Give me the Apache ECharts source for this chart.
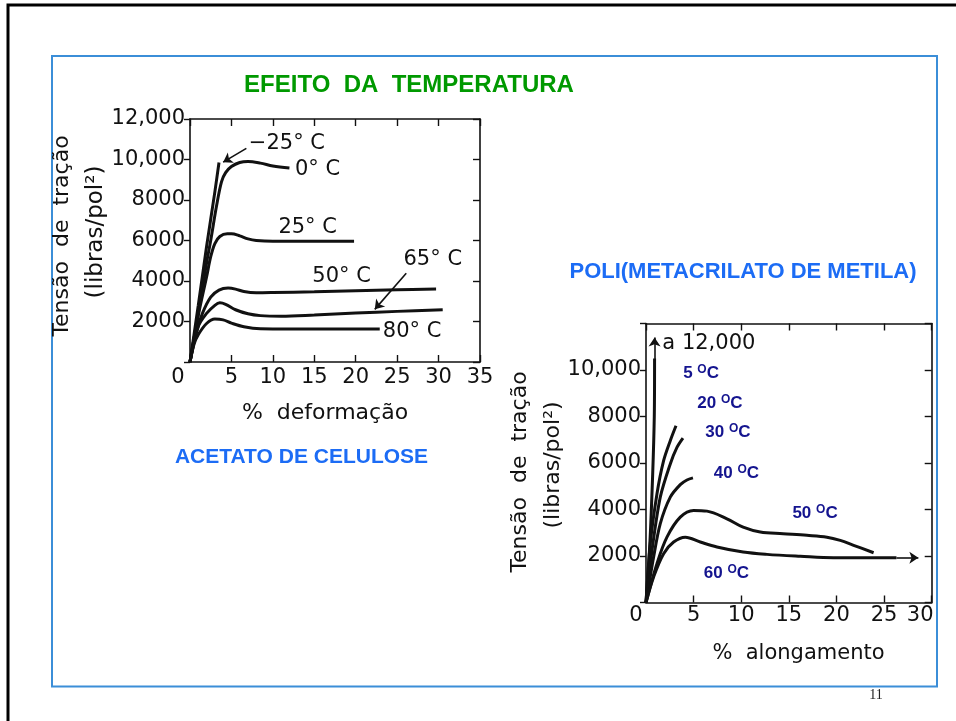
<!DOCTYPE html>
<html><head><meta charset="utf-8">
<script src="https://cdn.jsdelivr.net/npm/echarts@6/dist/echarts.min.js"></script>
<style>html,body{margin:0;padding:0;background:#fff}#c{width:956px;height:721px}</style>
</head><body><div id="c"></div>
<script>
// ---------- Acetato de celulose (left chart) ----------
const acetXMax = 35, acetYMax = 12000;
const acetM25 = [[0,0],[1,2800],[2,5700],[3,8400],[3.5,9850]];
const acet0   = [[0,0],[1,2400],[2,4900],[2.5,6000],[3.2,7700],[3.8,8900],[4.3,9350],[5,9650],[6,9850],[7,9900],[8.5,9820],[10,9680],[12,9580]];
const acet25  = [[0,0],[1,2300],[2,4200],[2.5,5200],[3,5850],[3.6,6200],[4.5,6330],[5,6330],[6,6230],[7,6080],[8,6000],[10,5960],[14,5960],[19.8,5960]];
const acet50  = [[0,0],[0.8,1500],[1.5,2400],[2.5,3200],[3.5,3550],[4.6,3650],[5.5,3600],[6.5,3480],[8,3420],[10,3430],[15,3470],[20,3520],[25,3570],[29.7,3600]];
const acet65  = [[0,0],[1,1750],[2,2400],[3,2800],[3.6,2920],[4.3,2850],[5.5,2580],[7,2380],[8.5,2290],[11,2260],[15,2320],[20,2420],[25,2500],[30.5,2580]];
const acet80  = [[0,0],[0.5,900],[1,1350],[2,1900],[3,2120],[4,2080],[5,1920],[6.5,1740],[8.5,1640],[12,1630],[18,1630],[22.9,1630]];
const acetLabels   = ['\u221225\u00b0 C','0\u00b0 C','25\u00b0 C','50\u00b0 C','65\u00b0 C','80\u00b0 C'];
const acetLabelPos = [[11.7,10800],[15.4,9480],[14.2,6620],[18.3,4200],[29.3,5040],[26.8,1500]];
const acetArrows   = [[[6.8,10550],[4.0,9870]],[[26.1,4380],[22.3,2600]]];

// ---------- Poli(metacrilato de metila) (right chart) ----------
const pmmaXMax = 30, pmmaYMax = 12000;
const pmma5  = [[0,0],[0.4,2500],[0.7,5500],[0.87,8000],[0.9,10500]];
const pmma20 = [[0,0],[0.45,2530],[1.15,4670],[1.85,6100],[2.55,6960],[3.15,7600]];
const pmma30 = [[0,0],[0.63,2240],[1.5,4530],[2.55,5960],[3.25,6670],[3.88,7070]];
const pmma40 = [[0,0],[0.8,1960],[1.5,3390],[2.55,4530],[3.6,5070],[4.3,5270],[4.93,5360]];
const pmma50 = [[0,0],[1.15,1670],[2.2,2810],[3.6,3670],[5,3960],[6.4,3930],[8.5,3600],[10.2,3240],[12,3030],[14.4,2960],[16.9,2890],[19,2810],[20.4,2670],[21.8,2460],[23.9,2140]];
const pmma60 = [[0,0],[0.8,1100],[1.85,2100],[2.9,2600],[4.13,2810],[5.7,2600],[7.45,2390],[10.2,2170],[12.7,2070],[16.2,1990],[19.7,1930],[23.2,1930],[26.3,1930]];
const pmmaTemps    = ['5','20','30','40','50','60'];
const pmmaLabelPos = [[5.78,9850],[7.77,8560],[8.6,7320],[9.5,5550],[17.75,3840],[8.45,1260]];
const pmmaArrows   = [[[0.9,10400],[0.9,11400]],[[26.3,1930],[28.6,1930]]];
const pmmaNote     = 'a 12,000';
const pmmaNotePos  = [6.6,11150];

const FONT = 'DejaVu Sans';
const INK = '#111';
const NAVY = '#14148f';

function yFmt(v){ if (v === 0) return ''; return v >= 10000 ? (v/1000) + ',000' : String(v); }

function axesPair(grid, xmax, ymax, xFmt, xRich, xMargin, yLabels){
  const common = {type:'value', gridIndex:grid, splitLine:{show:false},
    axisLine:{show:true, onZero:false, lineStyle:{color:INK, width:1.6}}};
  const xs = [
    Object.assign({}, common, {min:0, max:xmax, interval:5, position:'bottom',
      axisTick:{show:true, inside:true, length:7, lineStyle:{color:INK, width:1.4}},
      axisLabel:{show:true, margin:xMargin, fontFamily:FONT, fontSize:21, color:INK, formatter:xFmt, rich:xRich}}),
    Object.assign({}, common, {min:0, max:xmax, interval:5, position:'top',
      axisTick:{show:true, inside:true, length:7, lineStyle:{color:INK, width:1.4}},
      axisLabel:{show:false}})
  ];
  const ys = [
    Object.assign({}, common, {min:0, max:ymax, interval:2000, position:'left',
      axisTick:{show:true, inside:false, length:6, lineStyle:{color:INK, width:1.4}},
      axisLabel:{show:true, margin:5, fontFamily:FONT, fontSize:21, color:INK, formatter:yLabels}}),
    Object.assign({}, common, {min:0, max:ymax, interval:2000, position:'right',
      axisTick:{show:true, inside:true, length:7, lineStyle:{color:INK, width:1.4}},
      axisLabel:{show:false}})
  ];
  return {xs, ys};
}

const A = axesPair(0, acetXMax, acetYMax,
  v => v === 0 ? '{z|0}' : String(v),
  {z:{padding:[0,24,0,0], fontFamily:FONT, fontSize:21, color:INK}}, 5, yFmt);
const P = axesPair(1, pmmaXMax, pmmaYMax,
  v => v === 0 ? '{z|0}' : (v === 30 ? '{t|30}' : String(v)),
  {z:{padding:[0,20,0,0], fontFamily:FONT, fontSize:21, color:INK},
   t:{padding:[0,23,0,0], fontFamily:FONT, fontSize:21, color:INK}}, 3,
  v => (v === 0 || v === 12000) ? '' : yFmt(v));

function curve(data, xi, yi, smooth, extra){
  return Object.assign({type:'line', xAxisIndex:xi, yAxisIndex:yi, data:data, symbol:'none',
    smooth:smooth, silent:true, lineStyle:{color:INK, width:3}}, extra || {});
}
function arrows(list){
  return {silent:true, symbol:['none','arrow'], symbolSize:9, animation:false,
    label:{show:false}, emphasis:{disabled:true},
    lineStyle:{color:INK, width:1.6, type:'solid'},
    data:list.map(a => [{coord:a[0]},{coord:a[1]}])};
}

const acetLabelSeries = {type:'scatter', xAxisIndex:0, yAxisIndex:0, symbolSize:0, silent:true,
  itemStyle:{opacity:1},
  data: acetLabels.map((t,i) => ({value:acetLabelPos[i],
    label:{show:true, position:'inside', formatter:t, fontFamily:FONT, fontSize:21, color:INK}}))};

const pmmaLabelSeries = {type:'scatter', xAxisIndex:2, yAxisIndex:2, symbolSize:0, silent:true,
  itemStyle:{opacity:1},
  data: pmmaTemps.map((t,i) => ({value:pmmaLabelPos[i],
    label:{show:true, position:'inside', formatter:'{n|' + t + ' }{s|O}{n|C}',
      rich:{n:{fontFamily:'Liberation Sans', fontWeight:'bold', fontSize:17, color:NAVY, lineHeight:20},
            s:{fontFamily:'Liberation Sans', fontWeight:'bold', fontSize:12, color:NAVY, verticalAlign:'top', lineHeight:12}}}}))
    .concat([{value:pmmaNotePos, label:{show:true, position:'inside', formatter:pmmaNote,
      fontFamily:FONT, fontSize:21, color:INK}}])};

const option = {
  animation:false,
  backgroundColor:'#fff',
  grid:[
    {left:190, top:119, width:290, height:243},
    {left:646, top:323.5, width:285.7, height:279}
  ],
  xAxis: A.xs.concat(P.xs),
  yAxis: A.ys.concat(P.ys),
  series:[
    curve(acetM25,0,0,0.1,{markLine:arrows(acetArrows)}),
    curve(acet0,0,0,0.35),
    curve(acet25,0,0,0.35),
    curve(acet50,0,0,0.35),
    curve(acet65,0,0,0.35),
    curve(acet80,0,0,0.35),
    acetLabelSeries,
    curve(pmma5,2,2,0.3,{markLine:arrows(pmmaArrows)}),
    curve(pmma20,2,2,0.3),
    curve(pmma30,2,2,0.3),
    curve(pmma40,2,2,0.3),
    curve(pmma50,2,2,0.35),
    curve(pmma60,2,2,0.35),
    pmmaLabelSeries
  ],
  graphic:[
    {type:'rect', silent:true, shape:{x:8, y:5, width:1000, height:1000}, style:{fill:'none', stroke:'#000', lineWidth:3}},
    {type:'rect', silent:true, shape:{x:52, y:56, width:885, height:630.5}, style:{fill:'none', stroke:'#3b8ed8', lineWidth:2}},
    {type:'text', silent:true, x:409, y:85, style:{text:'EFEITO  DA  TEMPERATURA', fill:'#009900', font:'bold 24px "Liberation Sans"', align:'center', verticalAlign:'middle'}},
    {type:'text', silent:true, x:743, y:272, style:{text:'POLI(METACRILATO DE METILA)', fill:'#1c6cf5', font:'bold 22px "Liberation Sans"', align:'center', verticalAlign:'middle'}},
    {type:'text', silent:true, x:301.5, y:457, style:{text:'ACETATO DE CELULOSE', fill:'#1c6cf5', font:'bold 21px "Liberation Sans"', align:'center', verticalAlign:'middle'}},
    {type:'text', silent:true, x:62, y:236, rotation:Math.PI/2, style:{text:'Tens\u00e3o  de  tra\u00e7\u00e3o', fill:INK, font:'22px "DejaVu Sans"', align:'center', verticalAlign:'middle'}},
    {type:'text', silent:true, x:96, y:232, rotation:Math.PI/2, style:{text:'(libras/pol\u00b2)', fill:INK, font:'23px "DejaVu Sans"', align:'center', verticalAlign:'middle'}},
    {type:'text', silent:true, x:325, y:413, style:{text:'%  deforma\u00e7\u00e3o', fill:INK, font:'22px "DejaVu Sans"', align:'center', verticalAlign:'middle'}},
    {type:'text', silent:true, x:520, y:472, rotation:Math.PI/2, style:{text:'Tens\u00e3o  de  tra\u00e7\u00e3o', fill:INK, font:'22px "DejaVu Sans"', align:'center', verticalAlign:'middle'}},
    {type:'text', silent:true, x:553, y:465, rotation:Math.PI/2, style:{text:'(libras/pol\u00b2)', fill:INK, font:'22px "DejaVu Sans"', align:'center', verticalAlign:'middle'}},
    {type:'text', silent:true, x:798.5, y:654, style:{text:'%  alongamento', fill:INK, font:'21px "DejaVu Sans"', align:'center', verticalAlign:'middle'}},
    {type:'text', silent:true, x:876, y:695, style:{text:'11', fill:'#222', font:'14px "Liberation Serif"', align:'center', verticalAlign:'middle'}}
  ]
};
echarts.init(document.getElementById('c'), null, {renderer:'canvas'}).setOption(option);
</script>
</body></html>
